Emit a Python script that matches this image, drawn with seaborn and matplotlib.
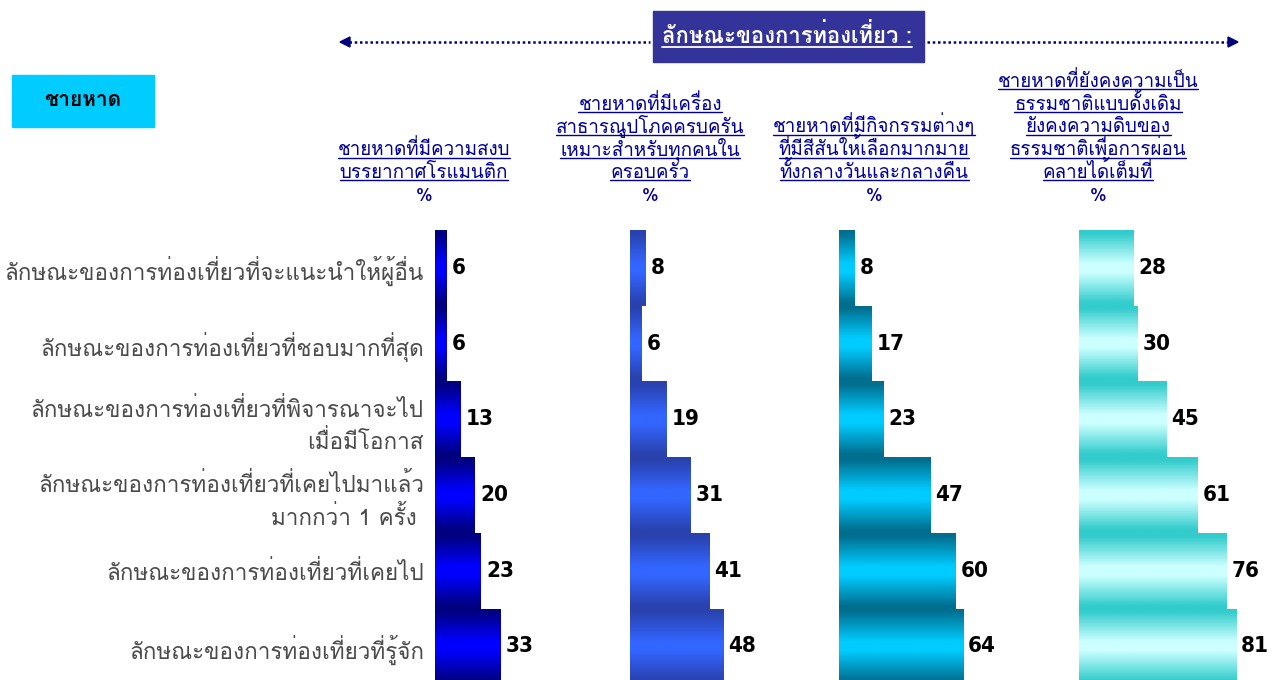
import numpy as np
import pandas as pd
import matplotlib
matplotlib.use("Agg")
import matplotlib.pyplot as plt
import seaborn as sns
from matplotlib.lines import Line2D
from matplotlib.patches import Rectangle, Polygon
from matplotlib.colors import to_rgb

# ---------------- data ----------------
categories = [
    "ลักษณะของการท่องเที่ยวที่จะแนะนำให้ผู้อื่น",
    "ลักษณะของการท่องเที่ยวที่ชอบมากที่สุด",
    "ลักษณะของการท่องเที่ยวที่พิจารณาจะไป\nเมื่อมีโอกาส",
    "ลักษณะของการท่องเที่ยวที่เคยไปมาแล้ว\nมากกว่า 1 ครั้ง ",
    "ลักษณะของการท่องเที่ยวที่เคยไป",
    "ลักษณะของการท่องเที่ยวที่รู้จัก",
]
values_calm = [6, 6, 13, 20, 23, 33]
values_facilities = [8, 6, 19, 31, 41, 48]
values_activities = [8, 17, 23, 47, 60, 64]
values_natural = [28, 30, 45, 61, 76, 81]

header_calm = ["ชายหาดที่มีความสงบ", "บรรยากาศโรแมนติก"]
header_facilities = ["ชายหาดที่มีเครื่อง", "สาธารณูปโภคครบครัน", "เหมาะสำหรับทุกคนใน", "ครอบครัว"]
header_activities = ["ชายหาดที่มีกิจกรรมต่างๆ", "ที่มีสีสันให้เลือกมากมาย", "ทั้งกลางวันและกลางคืน"]
header_natural = ["ชายหาดที่ยังคงความเป็น", "ธรรมชาติแบบดั้งเดิม", "ยังคงความดิบของ",
                  "ธรรมชาติเพื่อการผ่อน", "คลายได้เต็มที่"]
unit_label = "%"
banner_title = "ลักษณะของการท่องเที่ยว :"
segment_label = "ชายหาด"

# ---------------- style ----------------
W, H = 1283, 680
sns.set_theme(style="white")
THAI = ["Loma", "DejaVu Sans"]
plt.rcParams["font.family"] = THAI

fig = plt.figure(figsize=(W / 100, H / 100), dpi=100)
renderer = fig.canvas.get_renderer()


def fx(p):
    return p / W


def fy(p):
    return 1 - p / H


panels = [
    dict(values=values_calm, left=435, ppu=2.0, edge="#000080", center="#0000FF",
         header=header_calm, hx=424),
    dict(values=values_facilities, left=630, ppu=1.94, edge="#2A42AE", center="#3366FF",
         header=header_facilities, hx=650),
    dict(values=values_activities, left=839, ppu=1.94, edge="#006F8F", center="#00CCFF",
         header=header_activities, hx=874),
    dict(values=values_natural, left=1079, ppu=1.94, edge="#33CCCC", center="#CCFFFF",
         header=header_natural, hx=1098),
]

top_px = 230
row_px = 75.7
n = len(categories)
ax_w_px = 190
bottom_px = top_px + n * row_px


def gradient(edge, center, nseg=96):
    d = np.linspace(-1, 1, nseg)
    t = np.clip((np.abs(d) - 0.12) / 0.8, 0, 1)
    e = np.array(to_rgb(edge))
    c = np.array(to_rgb(center))
    cols = c[None, :] * (1 - t[:, None]) + e[None, :] * t[:, None]
    return cols[:, None, :]


for pi, p in enumerate(panels):
    ax = fig.add_axes([fx(p["left"]), fy(bottom_px), fx(ax_w_px), (n * row_px) / H])
    df = pd.DataFrame({"category": categories, "value": p["values"]})
    sns.barplot(data=df, x="value", y="category", orient="h", width=1.0,
                color=p["center"], ax=ax, saturation=1)
    img = gradient(p["edge"], p["center"])
    xmax = ax_w_px / p["ppu"]
    for patch in list(ax.patches):
        x0, y0 = patch.get_x(), patch.get_y()
        w, h = patch.get_width(), patch.get_height()
        patch.set_facecolor("none")
        patch.set_edgecolor("none")
        im = ax.imshow(img, extent=(x0, x0 + w, y0 + h, y0), aspect="auto",
                       interpolation="bilinear", zorder=2)
        im.set_clip_path(patch)
    ax.set_xlim(0, xmax)
    ax.set_ylim(n - 0.5, -0.5)
    for i, v in enumerate(p["values"]):
        ax.text(v + 5 / p["ppu"], i, str(v), ha="left", va="center",
                fontsize=16, fontweight="bold", color="black",
                family=["DejaVu Sans"], fontstretch="condensed", zorder=5,
                clip_on=False)
    for s in ax.spines.values():
        s.set_visible(False)
    ax.set_xticks([])
    ax.set_xlabel("")
    ax.set_ylabel("")
    ax.patch.set_alpha(0)
    if pi == 0:
        ax.set_yticks(range(n))
        ax.set_yticklabels(categories, fontsize=16.2, color="#4a4a4a",
                           family=THAI, linespacing=1.45)
        ax.tick_params(axis="y", length=0, pad=8)
    else:
        ax.set_yticks([])

# ---------------- headers ----------------
header_color = "#000099"
base0 = 178
pitch = 22.8


def underlined(x_px, base_px, s, color, lw=1.0, gap=2.5, **kw):
    t = fig.text(fx(x_px), fy(base_px), s, ha="center", va="baseline", color=color, **kw)
    bb = t.get_window_extent(renderer=renderer)
    y = fy(base_px + gap)
    fig.add_artist(Line2D([bb.x0 / W, bb.x1 / W], [y, y], color=color, lw=lw))
    return t


for p in panels:
    lines = p["header"]
    k = len(lines)
    for j, line in enumerate(lines):
        base = base0 - (k - 1 - j) * pitch
        underlined(p["hx"], base, line, header_color, lw=1.0,
                   fontsize=13.5, family=THAI)
    fig.text(fx(p["hx"]), fy(base0 + 23), unit_label, ha="center", va="baseline",
             color=header_color, fontsize=13.5, family=THAI)

# ---------------- banner with arrows ----------------
arrow_color = "#000080"
yl = fy(42)
fig.add_artist(Line2D([fx(349), fx(650)], [yl, yl], color=arrow_color, lw=1.8,
                      linestyle=(0, (1, 1.1))))
fig.add_artist(Line2D([fx(927), fx(1229)], [yl, yl], color=arrow_color, lw=1.8,
                      linestyle=(0, (1, 1.1))))
fig.add_artist(Polygon([(fx(340), fy(42)), (fx(350), fy(37)), (fx(350), fy(47))],
                       closed=True, color=arrow_color, transform=fig.transFigure))
fig.add_artist(Polygon([(fx(1238), fy(42)), (fx(1228), fy(37)), (fx(1228), fy(47))],
                       closed=True, color=arrow_color, transform=fig.transFigure))
fig.add_artist(Rectangle((fx(653), fy(62)), fx(924 - 653), (62 - 11) / H,
                         color="#333399", transform=fig.transFigure))
underlined(787, 43, banner_title, "white", lw=1.3, gap=3.5,
           fontsize=15.9, fontweight="bold", family=THAI)

# ---------------- segment box ----------------
fig.add_artist(Rectangle((fx(12), fy(127)), fx(154 - 12), (127 - 75) / H,
                         color="#00CCFF", transform=fig.transFigure))
fig.text(fx(83), fy(101), segment_label, ha="center", va="center", color="black",
         fontsize=15, fontweight="bold", family=THAI)

fig.savefig("out.png", dpi=100)
